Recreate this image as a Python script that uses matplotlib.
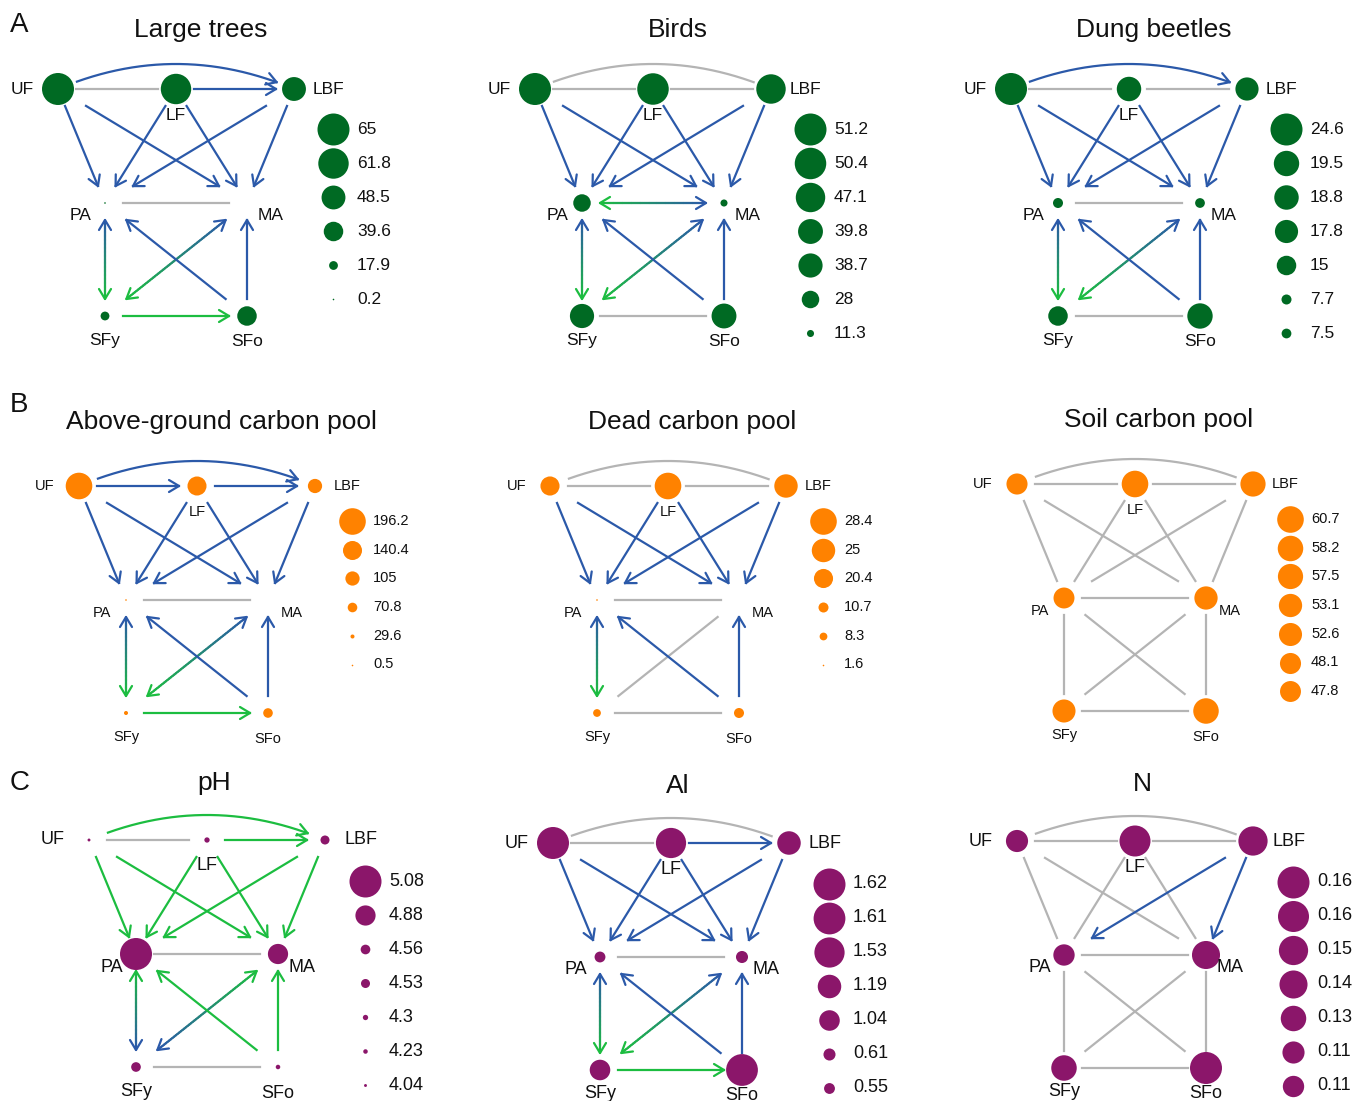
import numpy as np
import matplotlib
matplotlib.use('Agg')
import matplotlib.pyplot as plt
from matplotlib.collections import LineCollection
from matplotlib.colors import to_rgb

plt.rcParams['font.family'] = ['Liberation Sans', 'DejaVu Sans']

nodes = ['UF', 'LF', 'LBF', 'PA', 'MA', 'SFy', 'SFo']
pairs = [('UF', 'LF'), ('LF', 'LBF'), ('UF', 'LBF'),
         ('UF', 'PA'), ('UF', 'MA'), ('LF', 'PA'), ('LF', 'MA'), ('LBF', 'PA'), ('LBF', 'MA'),
         ('PA', 'MA'), ('PA', 'SFy'), ('MA', 'SFy'), ('PA', 'SFo'), ('MA', 'SFo'), ('SFy', 'SFo')]

titles = ['Large trees', 'Birds', 'Dung beetles',
          'Above-ground carbon pool', 'Dead carbon pool', 'Soil carbon pool',
          'pH', 'Al', 'N']

# node values, same order as nodes
large_trees = [65, 61.8, 48.5, 0.2, 0, 17.9, 39.6]
birds = [51.2, 50.4, 47.1, 28, 11.3, 38.7, 39.8]
dung_beetles = [24.6, 18.8, 17.8, 7.7, 7.5, 15, 19.5]
above_c = [196.2, 140.4, 105, 0.5, 0, 29.6, 70.8]
dead_c = [20.4, 28.4, 25, 1.6, 0, 8.3, 10.7]
soil_c = [48.1, 60.7, 57.5, 47.8, 53.1, 52.6, 58.2]
ph = [4.04, 4.3, 4.53, 5.08, 4.88, 4.56, 4.23]
al = [1.62, 1.53, 1.19, 0.55, 0.61, 1.04, 1.61]
n_soil = [0.112, 0.157, 0.148, 0.108, 0.142, 0.129, 0.162]

# edge codes per pair: 1st char = arrow head at first node, 2nd = at second node
# '.' none, 'b' blue, 'g' green ; '..' = grey line
top6b = ['.b'] * 6
large_trees_e = ['..', '.b', '.b'] + top6b + ['..', 'bg', 'bg', 'b.', 'b.', '.g']
birds_e = ['..', '..', '..'] + top6b + ['gb', 'bg', 'bg', 'b.', 'b.', '..']
dung_e = ['..', '..', '.b'] + top6b + ['..', 'bg', 'bg', 'b.', 'b.', '..']
above_e = ['.b', '.b', '.b'] + top6b + ['..', 'bg', 'bg', 'b.', 'b.', '.g']
dead_e = ['..', '..', '..'] + top6b + ['..', 'bg', '..', 'b.', 'b.', '..']
soil_e = ['..'] * 15
ph_e = ['..', '.g', '.g'] + ['.g'] * 6 + ['..', 'gb', 'gb', 'g.', 'g.', '..']
al_e = ['..', '.b', '..'] + top6b + ['..', 'bg', 'bg', 'b.', 'b.', '.g']
n_e = ['..'] * 7 + ['.b', '.b'] + ['..'] * 6

values = [large_trees, birds, dung_beetles, above_c, dead_c, soil_c, ph, al, n_soil]
edges = [large_trees_e, birds_e, dung_e, above_e, dead_e, soil_e, ph_e, al_e, n_e]
size_kind = ['lin'] * 6 + ['exp', 'lin', 'lin']
node_cols = ['#006a23'] * 3 + ['#ff8200'] * 3 + ['#8b166a'] * 3

BLUE = '#2b59a9'
GREEN = '#1cbd40'
GREY = '#b4b4b4'
COLS = {'b': BLUE, 'g': GREEN}
LW = 1.6

W, H = 1362, 1101
fig = plt.figure(figsize=(W / 100, H / 100), dpi=100)
ax = fig.add_axes([0, 0, 1, 1])
ax.set_xlim(0, W)
ax.set_ylim(H, 0)
ax.axis('off')

# layout in px relative to UF node
lay = {'UF': (0, 0), 'LF': (118, 0), 'LBF': (236, 0), 'PA': (47, 114),
       'MA': (189, 114), 'SFy': (47, 227), 'SFo': (189, 227)}
lab_off = {'UF': (-24, 0, 'right'), 'LF': (0, 26, 'center'), 'LBF': (19, 0, 'left'),
           'PA': (-24, 13, 'center'), 'MA': (24, 13, 'center'),
           'SFy': (0, 24, 'center'), 'SFo': (0, 26, 'center')}
origins = [(58, 89), (535, 89), (1011, 89),
           (79, 486), (550, 486), (1017, 484),
           (89, 840), (553, 843), (1017, 841)]
rows = [dict(letter='A', ly=32, rmax=16, fs=12.5, leg_dy=40, leg_step=34, leg_dx=275, txt_dx=24, t_dx=143, t_dy=-52),
        dict(letter='B', ly=412, rmax=13.3, fs=10.5, leg_dy=35, leg_step=28.7, leg_dx=273, txt_dx=21, t_dx=142, t_dy=-57),
        dict(letter='C', ly=790, rmax=16, fs=13, leg_dy=41, leg_step=34, leg_dx=276, txt_dx=24, t_dx=125, t_dy=-50)]


def radii(vals, kind, rmax):
    v = np.asarray(vals, float)
    f = 10 ** v if kind == 'exp' else v
    r = rmax * f / f.max()
    r = np.where(v > 0, np.maximum(r, 0.8), 0)
    return r


def chevron(tip, prev, col):
    u = tip - prev
    u = u / np.hypot(*u)
    nrm = np.array([-u[1], u[0]])
    L, hw = 10, 6
    pts = np.array([tip - L * u + hw * nrm, tip, tip - L * u - hw * nrm])
    ax.plot(pts[:, 0], pts[:, 1], color=col, lw=LW, solid_capstyle='round', zorder=2)


def edge_path(p, q, curved):
    p, q = np.array(p, float), np.array(q, float)
    if curved:
        c = np.array([(p[0] + q[0]) / 2, p[1] - 50])
        t = np.linspace(0, 1, 300)[:, None]
        pts = (1 - t) ** 2 * p + 2 * (1 - t) * t * c + t ** 2 * q
        keep = (np.hypot(*(pts - p).T) > 20) & (np.hypot(*(pts - q).T) > 18)
        return pts[keep]
    u = (q - p) / np.hypot(*(q - p))
    if abs(u[1]) < 1e-6:
        d = 18
    elif abs(u[0]) < 1e-6:
        d = 17
    else:
        d = min(28 / abs(u[0]), 17 / abs(u[1]))
    t = np.linspace(0, 1, 60)[:, None]
    return (p + d * u) + t * ((q - d * u) - (p + d * u))


def draw_edge(p, q, code, curved):
    pts = edge_path(p, q, curved)
    ha, hb = code
    if code == '..':
        ax.plot(pts[:, 0], pts[:, 1], color=GREY, lw=LW, zorder=1)
        return
    if ha != '.' and hb != '.':
        segs = np.stack([pts[:-1], pts[1:]], axis=1)
        t = np.linspace(0, 1, len(segs))[:, None]
        cols = (1 - t) * np.array(to_rgb(COLS[ha])) + t * np.array(to_rgb(COLS[hb]))
        ax.add_collection(LineCollection(segs, colors=cols, linewidths=LW, capstyle='round', zorder=2))
    else:
        ax.plot(pts[:, 0], pts[:, 1], color=COLS[ha if ha != '.' else hb], lw=LW, zorder=2)
    if hb != '.':
        chevron(pts[-1], pts[-4], COLS[hb])
    if ha != '.':
        chevron(pts[0], pts[3], COLS[ha])


for i in range(9):
    cfg = rows[i // 3]
    ox, oy = origins[i]
    pos = {k: (ox + dx, oy + dy) for k, (dx, dy) in lay.items()}

    for (a, b), code in zip(pairs, edges[i]):
        draw_edge(pos[a], pos[b], code, (a, b) == ('UF', 'LBF'))

    r = radii(values[i], size_kind[i], cfg['rmax'])
    xs = [pos[k][0] for k in nodes]
    ys = [pos[k][1] for k in nodes]
    ax.scatter(xs, ys, s=(2 * r * 0.72) ** 2, color=node_cols[i], linewidths=0, zorder=3)

    for k in nodes:
        dx, dy, ha = lab_off[k]
        ax.text(pos[k][0] + dx, pos[k][1] + dy, k, ha=ha, va='center',
                fontsize=cfg['fs'], color='#111111', zorder=4)

    # size legend
    v = np.asarray(values[i], float)
    order = np.argsort(-v)
    order = [j for j in order if v[j] > 0]
    lx = ox + cfg['leg_dx']
    for m, j in enumerate(order):
        ly = oy + cfg['leg_dy'] + m * cfg['leg_step']
        ax.scatter([lx], [ly], s=(2 * r[j] * 0.72) ** 2, color=node_cols[i], linewidths=0, zorder=3)
        ax.text(lx + cfg['txt_dx'], ly, '%g' % round(v[j], 2), ha='left', va='center',
                fontsize=cfg['fs'], color='#111111')

    ax.text(ox + cfg['t_dx'], oy + cfg['t_dy'], titles[i], ha='center', va='baseline',
            fontsize=19, color='#111111')

for cfg in rows:
    ax.text(10, cfg['ly'], cfg['letter'], ha='left', va='baseline', fontsize=20, color='#111111')

fig.savefig('out.png', dpi=100)
